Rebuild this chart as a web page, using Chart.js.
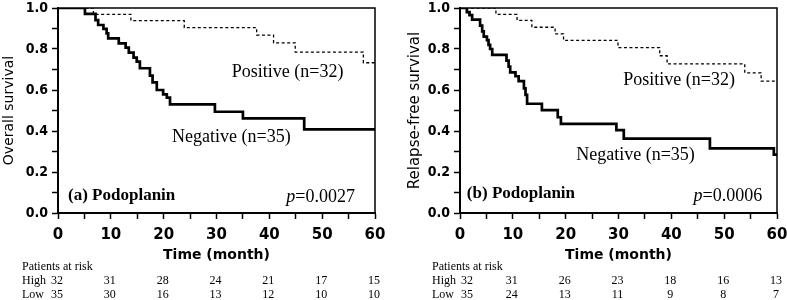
<!DOCTYPE html>
<html>
<head>
<meta charset="utf-8">
<script src="https://cdn.jsdelivr.net/npm/chart.js@4.4.0/dist/chart.umd.min.js"></script>
<style>
	body { margin: 0; background: #fff; }
	.panel { position: absolute; top: 0; height: 300px; }
</style>
</head>
<body>
<div class="panel" style="left:0;width:393px"><canvas id="chartA" width="393" height="300"></canvas></div>
<div class="panel" style="left:393px;width:394px"><canvas id="chartB" width="394" height="300"></canvas></div>
<script>
// months shown in the at-risk table
var riskMonths = [0, 10, 20, 30, 40, 50, 60];
var riskHighA = [32, 31, 28, 24, 21, 17, 15];
var riskLowA = [35, 30, 16, 13, 12, 10, 10];
var riskHighB = [32, 31, 26, 23, 18, 16, 13];
var riskLowB = [35, 24, 13, 11, 9, 8, 7];

// (a) overall survival
var negA_t = [0, 5.1, 7.1, 7.6, 8.6, 9.2, 9.5, 11.5, 12.8, 13.4, 14.3, 14.9, 15.5, 17.4, 17.9, 18.7, 19.9, 20.6, 21.2, 29.7, 35.0, 46.6, 60];
var negA_s = [1, 0.971, 0.941, 0.917, 0.898, 0.876, 0.852, 0.827, 0.807, 0.782, 0.758, 0.738, 0.706, 0.670, 0.637, 0.600, 0.579, 0.563, 0.530, 0.494, 0.462, 0.408, 0.408];
var posA_t = [0, 6.7, 13.8, 23.9, 37.6, 40.8, 44.9, 57.8, 60];
var posA_s = [1, 0.969, 0.938, 0.904, 0.868, 0.830, 0.785, 0.733, 0.733];

// (b) relapse-free survival
var negB_t = [0, 1.3, 1.8, 2.3, 3.8, 4.2, 4.5, 5.1, 5.4, 5.7, 6.1, 8.8, 9.2, 9.5, 10.5, 11.1, 12.1, 12.4, 12.7, 15.5, 18.5, 19.1, 29.6, 31.0, 47.3, 59.4, 60];
var negB_s = [1, 0.98, 0.965, 0.943, 0.914, 0.886, 0.860, 0.843, 0.820, 0.800, 0.771, 0.743, 0.714, 0.686, 0.667, 0.643, 0.608, 0.576, 0.533, 0.502, 0.467, 0.435, 0.404, 0.363, 0.315, 0.285, 0.285];
var posB_t = [0, 6.8, 10.8, 13.6, 18.0, 19.6, 29.9, 37.8, 39.2, 53.9, 57.0, 60];
var posB_s = [1, 0.969, 0.940, 0.906, 0.874, 0.842, 0.807, 0.767, 0.727, 0.684, 0.643, 0.643];

function toPoints(t, s) {
	return t.map(function (v, i) {
		return { x: v, y: s[i] };
	});
}

var framePlugin = {
	id: 'frame',
	afterDatasetsDraw: function (chart) {
		var a = chart.chartArea;
		var ctx = chart.ctx;
		ctx.save();
		ctx.strokeStyle = '#000';
		ctx.lineWidth = 1.5;
		ctx.beginPath();
		ctx.moveTo(a.left, a.top);
		ctx.lineTo(a.right, a.top);
		ctx.lineTo(a.right, a.bottom);
		ctx.stroke();
		ctx.restore();
	}
};

var notesPlugin = {
	id: 'notes',
	afterDraw: function (chart, args, opts) {
		var xs = chart.scales.x;
		var ys = chart.scales.y;
		var ctx = chart.ctx;
		ctx.save();
		ctx.fillStyle = '#000';
		ctx.textBaseline = 'middle';

		opts.labels.forEach(function (l) {
			ctx.font = l.font;
			ctx.textAlign = 'left';
			ctx.fillText(l.text, xs.getPixelForValue(l.t), ys.getPixelForValue(l.s));
		});

		// p value, right aligned, italic p
		var pv = opts.pvalue;
		var px = xs.getPixelForValue(pv.t);
		var py = ys.getPixelForValue(pv.s);
		ctx.textAlign = 'left';
		ctx.font = '18px "Liberation Serif"';
		var restW = ctx.measureText(pv.text).width;
		ctx.fillText(pv.text, px - restW, py);
		ctx.font = 'italic 18px "Liberation Serif"';
		var pW = ctx.measureText('p').width;
		ctx.fillText('p', px - restW - pW, py);

		// patients at risk table
		var r = opts.risk;
		ctx.font = '12px "Liberation Serif"';
		ctx.fillText('Patients at risk', r.labelX, r.y0);
		ctx.fillText('High', r.labelX, r.y0 + 14);
		ctx.fillText('Low', r.labelX, r.y0 + 28);
		ctx.fillText(String(r.high[0]), r.labelX + 29, r.y0 + 14);
		ctx.fillText(String(r.low[0]), r.labelX + 29, r.y0 + 28);
		ctx.textAlign = 'center';
		for (var i = 1; i < riskMonths.length; i++) {
			var cx = xs.getPixelForValue(riskMonths[i]) - 1;
			ctx.fillText(String(r.high[i]), cx, r.y0 + 14);
			ctx.fillText(String(r.low[i]), cx, r.y0 + 28);
		}
		ctx.restore();
	}
};

function makeChart(id, cfg) {
	var ctx = document.getElementById(id).getContext('2d');

	return new Chart(ctx, {
		type: 'line',
		data: {
			datasets: [{
				data: toPoints(cfg.negT, cfg.negS),
				borderColor: '#000',
				borderWidth: 2.7,
				stepped: 'before',
				pointRadius: 0,
				fill: false
			}, {
				data: toPoints(cfg.posT, cfg.posS),
				borderColor: '#000',
				borderWidth: 1.3,
				borderDash: [3, 2.5],
				stepped: 'before',
				pointRadius: 0,
				fill: false
			}]
		},
		options: {
			responsive: false,
			animation: false,
			layout: { padding: { top: 8, right: cfg.padRight, bottom: 36, left: 0 } },
			plugins: {
				legend: { display: false },
				tooltip: { enabled: false },
				notes: cfg.notes
			},
			scales: {
				x: {
					type: 'linear',
					min: 0,
					max: 60,
					afterFit: function (s) {
						s.height = 51;
						s.paddingLeft = 0;
						s.paddingRight = 0;
					},
					border: { display: true, color: '#000', width: 2 },
					grid: { drawOnChartArea: false, drawTicks: true, tickLength: 6, tickColor: '#000', tickWidth: 1.5 },
					ticks: {
						stepSize: 5,
						autoSkip: false,
						maxRotation: 0,
						color: '#000',
						padding: 7,
						font: { family: '"DejaVu Sans"', size: 15, weight: 'bold' },
						callback: function (v) { return v % 10 === 0 ? String(v) : ''; }
					},
					title: {
						display: true,
						text: 'Time (month)',
						color: '#000',
						font: { family: '"DejaVu Sans"', size: 14, weight: 'bold' },
						padding: { top: 0, bottom: 0 }
					}
				},
				y: {
					min: 0,
					max: 1,
					afterFit: function (s) {
						s.width = cfg.yWidth;
						s.paddingTop = 0;
						s.paddingBottom = 0;
					},
					border: { display: true, color: '#000', width: 2 },
					grid: { drawOnChartArea: false, drawTicks: true, tickLength: 6, tickColor: '#000', tickWidth: 1.5 },
					ticks: {
						stepSize: 0.1,
						autoSkip: false,
						color: '#000',
						padding: 4,
						font: { family: '"DejaVu Sans Condensed", "DejaVu Sans"', size: 14, weight: 'bold' },
						callback: function (v) { return Math.round(v * 10) % 2 === 0 ? v.toFixed(1) : ''; }
					},
					title: {
						display: true,
						text: cfg.yTitle,
						color: '#000',
						font: { family: '"DejaVu Sans"', size: cfg.yTitleSize },
						padding: { top: cfg.yTitlePad, bottom: 0 }
					}
				}
			}
		},
		plugins: [framePlugin, notesPlugin]
	});
}

makeChart('chartA', {
	negT: negA_t, negS: negA_s, posT: posA_t, posS: posA_s,
	yTitle: 'Overall survival', yTitleSize: 14, yWidth: 58, yTitlePad: 1, padRight: 18,
	notes: {
		labels: [
			{ text: 'Positive (n=32)', t: 32.9, s: 0.685, font: '18px "Liberation Serif"' },
			{ text: 'Negative (n=35)', t: 21.6, s: 0.368, font: '18px "Liberation Serif"' },
			{ text: '(a) Podoplanin', t: 1.9, s: 0.083, font: 'bold 17px "Liberation Serif"' }
		],
		pvalue: { text: '=0.0027', t: 56.2, s: 0.076 },
		risk: { labelX: 22, y0: 267, high: riskHighA, low: riskLowA }
	}
});

makeChart('chartB', {
	negT: negB_t, negS: negB_s, posT: posB_t, posS: posB_s,
	yTitle: 'Relapse-free survival', yTitleSize: 15, yWidth: 67, yTitlePad: 13, padRight: 10,
	notes: {
		labels: [
			{ text: 'Positive (n=32)', t: 30.9, s: 0.649, font: '18px "Liberation Serif"' },
			{ text: 'Negative (n=35)', t: 22.0, s: 0.283, font: '18px "Liberation Serif"' },
			{ text: '(b) Podoplanin', t: 1.3, s: 0.095, font: 'bold 17px "Liberation Serif"' }
		],
		pvalue: { text: '=0.0006', t: 57.2, s: 0.080 },
		risk: { labelX: 39, y0: 267, high: riskHighB, low: riskLowB }
	}
});
</script>
</body>
</html>
